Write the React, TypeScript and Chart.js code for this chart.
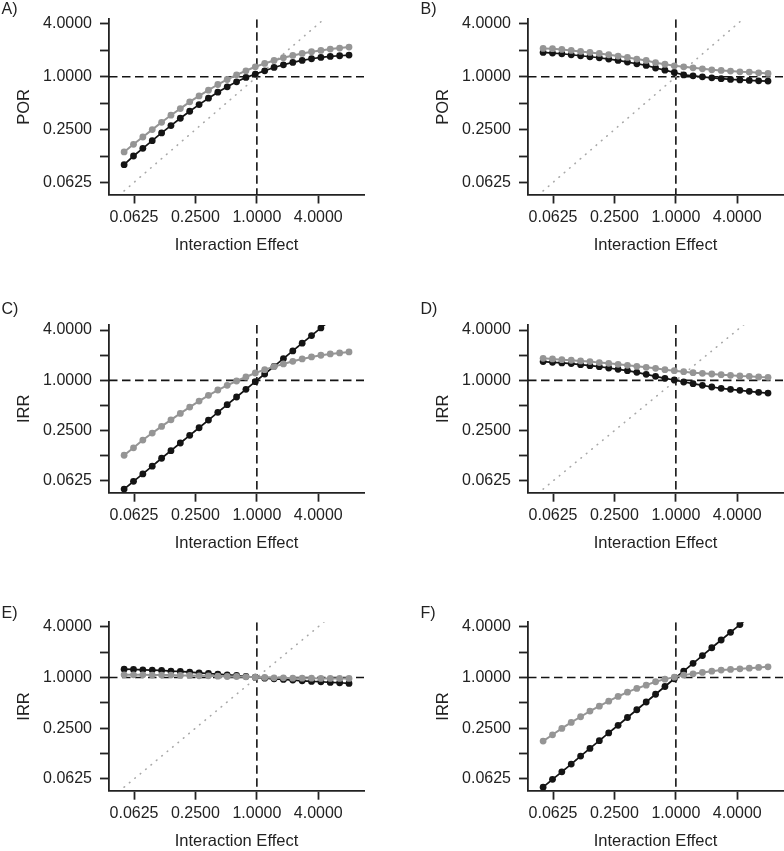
import React, { useEffect, useRef } from 'react';
import { Chart, registerables } from 'chart.js';

Chart.register(...registerables);

// ---- Data ----
const interactionEffect = [
  0.05, 0.0618, 0.0763, 0.0943, 0.1165, 0.1439, 0.1778, 0.2197, 0.2715, 0.3354, 0.4144, 0.512, 0.6325,
  0.7814, 0.9654, 1.1928, 1.4737, 1.8207, 2.2495, 2.7793, 3.4338, 4.2424, 5.2415, 6.4758, 8.0,
];

const porA_black = [
  0.0996, 0.125, 0.153, 0.187, 0.229, 0.278, 0.337, 0.405, 0.482, 0.57, 0.668, 0.769, 0.877, 0.983, 1.073,
  1.171, 1.278, 1.371, 1.458, 1.537, 1.606, 1.664, 1.708, 1.738, 1.769,
];
const porA_gray = [
  0.139, 0.17, 0.206, 0.25, 0.303, 0.365, 0.434, 0.518, 0.606, 0.704, 0.817, 0.932, 1.054, 1.171, 1.301, 1.42,
  1.537, 1.649, 1.753, 1.848, 1.931, 2.0, 2.072, 2.127, 2.184,
];

const porB_black = [
  1.897, 1.865, 1.832, 1.784, 1.738, 1.693, 1.649, 1.592, 1.537, 1.471, 1.408, 1.348, 1.26, 1.19, 1.12, 1.05,
  1.027, 1.0, 0.974, 0.952, 0.934, 0.922, 0.91, 0.9, 0.893,
];
const porB_gray = [
  2.108, 2.09, 2.053, 2.0, 1.948, 1.897, 1.848, 1.784, 1.723, 1.664, 1.592, 1.537, 1.45, 1.39, 1.335, 1.3,
  1.267, 1.234, 1.202, 1.183, 1.161, 1.14, 1.131, 1.111, 1.093,
];

const irrC_black = [
  0.05, 0.062, 0.076, 0.094, 0.117, 0.144, 0.178, 0.22, 0.271, 0.335, 0.414, 0.512, 0.632, 0.781, 0.965, 1.19,
  1.47, 1.82, 2.25, 2.78, 3.43, 4.24, 5.24, 6.48, 8.0,
];
const irrC_gray = [
  0.127, 0.156, 0.193, 0.234, 0.281, 0.337, 0.402, 0.479, 0.565, 0.661, 0.766, 0.871, 0.982, 1.096, 1.224,
  1.342, 1.458, 1.57, 1.69, 1.803, 1.905, 1.995, 2.069, 2.127, 2.187,
];

const irrD_black = [
  1.675, 1.644, 1.614, 1.585, 1.541, 1.499, 1.458, 1.405, 1.355, 1.306, 1.247, 1.18, 1.117, 1.057, 1.009,
  0.955, 0.912, 0.871, 0.832, 0.802, 0.78, 0.759, 0.738, 0.718, 0.705,
];
const irrD_gray = [
  1.836, 1.803, 1.769, 1.738, 1.706, 1.675, 1.629, 1.599, 1.555, 1.513, 1.472, 1.432, 1.393, 1.342, 1.306,
  1.27, 1.236, 1.213, 1.191, 1.169, 1.148, 1.127, 1.117, 1.096, 1.087,
];

const irrE_black = [
  1.255, 1.244, 1.233, 1.222, 1.211, 1.188, 1.178, 1.157, 1.136, 1.115, 1.095, 1.075, 1.056, 1.027, 1.009,
  0.982, 0.964, 0.947, 0.93, 0.913, 0.897, 0.889, 0.873, 0.865, 0.849,
];
const irrE_gray = [
  1.075, 1.075, 1.075, 1.066, 1.066, 1.066, 1.056, 1.056, 1.047, 1.047, 1.037, 1.027, 1.027, 1.018, 1.009, 1.0,
  0.991, 0.991, 0.982, 0.982, 0.982, 0.973, 0.973, 0.973, 0.973,
];

const irrF_black = [
  0.05, 0.062, 0.076, 0.094, 0.117, 0.144, 0.178, 0.22, 0.271, 0.335, 0.414, 0.512, 0.632, 0.781, 0.965, 1.19,
  1.47, 1.82, 2.25, 2.78, 3.43, 4.24, 5.24, 6.48, 8.0,
];
const irrF_gray = [
  0.176, 0.209, 0.249, 0.293, 0.342, 0.399, 0.457, 0.524, 0.595, 0.67, 0.741, 0.811, 0.889, 0.955, 1.009,
  1.066, 1.105, 1.146, 1.188, 1.222, 1.244, 1.267, 1.29, 1.314, 1.338,
];

const xTickValues = [0.0625, 0.25, 1, 4];
const yTickValues = [0.0625, 0.125, 0.25, 0.5, 1, 2, 4];
const yLabelledTicks = [0.0625, 0.25, 1, 4];
const referenceValue = 1;
const identityEnds = [0.05, 8];
const xTitle = 'Interaction Effect';

// ---- Layout ----
const FONT = "'Liberation Sans', Arial, Helvetica, sans-serif";
const CANVAS_W = 392;
const AXIS_LEFT = 109;
const AREA_RIGHT = 364;
const XSCALE_H = 60.4;
const X_MIN = Math.pow(2, -4.814);
const X_MAX = Math.pow(2, 3.488);

type Row = { top: number; h: number; areaTop: number; areaBottom: number; yMin: number; yMax: number; labelY: number };
const rows: Row[] = [
  { top: 0, h: 283, areaTop: 19.3, areaBottom: 194.5, yMin: Math.pow(2, -4.458), yMax: Math.pow(2, 2.178), labelY: 10 },
  { top: 283, h: 283, areaTop: 42, areaBottom: 209.7, yMin: Math.pow(2, -4.465), yMax: Math.pow(2, 2.199), labelY: 26.3 },
  { top: 566, h: 285, areaTop: 56.3, areaBottom: 224.7, yMin: Math.pow(2, -4.461), yMax: Math.pow(2, 2.173), labelY: 48 },
];
const colLeft = [0, 419];

type PanelSpec = { letter: string; yTitle: string; black: number[]; gray: number[]; row: number; col: number };
const panels: PanelSpec[] = [
  { letter: 'A)', yTitle: 'POR', black: porA_black, gray: porA_gray, row: 0, col: 0 },
  { letter: 'B)', yTitle: 'POR', black: porB_black, gray: porB_gray, row: 0, col: 1 },
  { letter: 'C)', yTitle: 'IRR', black: irrC_black, gray: irrC_gray, row: 1, col: 0 },
  { letter: 'D)', yTitle: 'IRR', black: irrD_black, gray: irrD_gray, row: 1, col: 1 },
  { letter: 'E)', yTitle: 'IRR', black: irrE_black, gray: irrE_gray, row: 2, col: 0 },
  { letter: 'F)', yTitle: 'IRR', black: irrF_black, gray: irrF_gray, row: 2, col: 1 },
];

const BLACK = '#141414';
const GRAY = '#959595';
const AXIS = '#222222';

function Panel({ spec }: { spec: PanelSpec }) {
  const ref = useRef<HTMLCanvasElement>(null);
  const row = rows[spec.row];
  useEffect(() => {
    const canvas = ref.current;
    if (!canvas) return;
    const letterPlugin = {
      id: 'panelLetter',
      afterDraw(chart: any) {
        const ctx = chart.ctx;
        ctx.save();
        ctx.font = `16px ${FONT}`;
        ctx.fillStyle = AXIS;
        ctx.textBaseline = 'middle';
        ctx.textAlign = 'left';
        ctx.fillText(spec.letter, 1.5, row.labelY);
        ctx.restore();
      },
    };
    const toPts = (ys: number[]) => interactionEffect.map((x, i) => ({ x, y: ys[i] }));
    const chart = new Chart(canvas, {
      type: 'line',
      data: {
        datasets: [
          {
            label: 'gray',
            data: toPts(spec.gray),
            borderColor: GRAY,
            backgroundColor: GRAY,
            pointBackgroundColor: GRAY,
            borderWidth: 2,
            pointRadius: 3.4,
            pointBorderWidth: 0,
            order: 0,
          },
          {
            label: 'black',
            data: toPts(spec.black),
            borderColor: BLACK,
            backgroundColor: BLACK,
            pointBackgroundColor: BLACK,
            borderWidth: 1.7,
            pointRadius: 3.4,
            pointBorderWidth: 0,
            order: 1,
          },
          {
            label: 'identity',
            data: identityEnds.map((v) => ({ x: v, y: v })),
            borderColor: '#a8a8a8',
            borderWidth: 1.6,
            borderDash: [0.5, 6.5],
            borderCapStyle: 'round',
            pointRadius: 0,
            order: 2,
          },
          {
            label: 'h-ref',
            data: [
              { x: X_MIN, y: referenceValue },
              { x: X_MAX, y: referenceValue },
            ],
            borderColor: BLACK,
            borderWidth: 1.6,
            borderDash: [8.5, 4.5],
            pointRadius: 0,
            order: 3,
          },
          {
            label: 'v-ref',
            data: [
              { x: referenceValue, y: row.yMax },
              { x: referenceValue, y: row.yMin },
            ],
            borderColor: BLACK,
            borderWidth: 1.6,
            borderDash: [8.5, 4.5],
            pointRadius: 0,
            order: 3,
          },
        ],
      } as any,
      options: {
        responsive: false,
        animation: false,
        events: [],
        layout: {
          autoPadding: false,
          padding: {
            left: 0,
            right: CANVAS_W - AREA_RIGHT,
            top: row.areaTop,
            bottom: row.h - row.areaBottom - XSCALE_H,
          },
        },
        plugins: { legend: { display: false }, tooltip: { enabled: false }, title: { display: false } },
        scales: {
          x: {
            type: 'logarithmic',
            position: 'bottom',
            min: X_MIN,
            max: X_MAX,
            bounds: 'data',
            afterBuildTicks: (scale: any) => {
              scale.ticks = xTickValues.map((v) => ({ value: v }));
            },
            afterFit: (scale: any) => {
              scale.height = XSCALE_H;
            },
            ticks: {
              autoSkip: false,
              maxRotation: 0,
              minRotation: 0,
              padding: 4,
              color: AXIS,
              font: { family: FONT, size: 16 },
              callback: (v: any) => Number(v).toFixed(4),
            },
            grid: {
              drawOnChartArea: false,
              drawTicks: true,
              tickLength: 9,
              tickColor: AXIS,
              tickWidth: 1.8,
              color: AXIS,
            },
            border: { display: true, color: AXIS, width: 1.8 },
            title: {
              display: true,
              text: xTitle,
              color: AXIS,
              font: { family: FONT, size: 16.5 },
              padding: { top: 0, bottom: 0 },
            },
          },
          y: {
            type: 'logarithmic',
            position: 'left',
            min: row.yMin,
            max: row.yMax,
            bounds: 'data',
            afterBuildTicks: (scale: any) => {
              scale.ticks = yTickValues.map((v) => ({ value: v }));
            },
            afterFit: (scale: any) => {
              scale.width = AXIS_LEFT;
            },
            ticks: {
              autoSkip: false,
              padding: 8,
              color: AXIS,
              font: { family: FONT, size: 16 },
              callback: (v: any) => (yLabelledTicks.includes(Number(v)) ? Number(v).toFixed(4) : ''),
            },
            grid: {
              drawOnChartArea: false,
              drawTicks: true,
              tickLength: 9,
              tickColor: AXIS,
              tickWidth: 1.8,
              color: AXIS,
            },
            border: { display: true, color: AXIS, width: 1.8 },
            title: {
              display: true,
              text: spec.yTitle,
              color: AXIS,
              font: { family: FONT, size: 16.5 },
              padding: { top: 14.1, bottom: 0 },
            },
          },
        },
      } as any,
      plugins: [letterPlugin],
    });
    return () => chart.destroy();
  }, []);
  return (
    <canvas
      ref={ref}
      width={CANVAS_W}
      height={row.h}
      style={{
        position: 'absolute',
        left: colLeft[spec.col],
        top: row.top,
        width: CANVAS_W,
        height: row.h,
        display: 'block',
      }}
    />
  );
}

export default function App() {
  return (
    <div
      style={{
        position: 'absolute',
        left: 0,
        top: 0,
        width: 784,
        height: 851,
        overflow: 'hidden',
        background: '#ffffff',
      }}
    >
      {panels.map((p) => (
        <Panel key={p.letter} spec={p} />
      ))}
    </div>
  );
}
